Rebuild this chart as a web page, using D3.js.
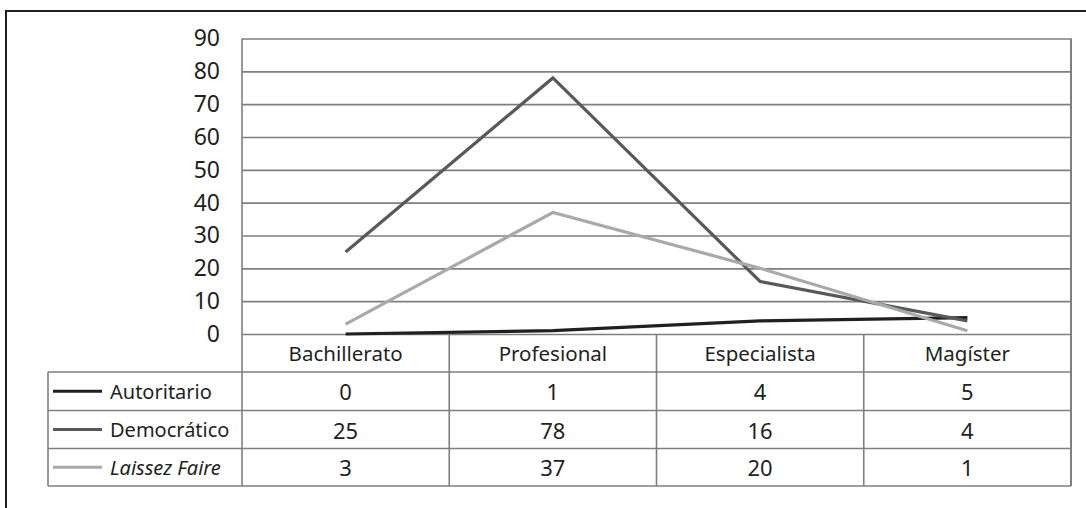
<!DOCTYPE html>
<html>
<head>
<meta charset="utf-8">
<script src="https://cdn.jsdelivr.net/npm/d3@7"></script>
<style>
  html, body { margin: 0; padding: 0; background: #fff; }
  svg { display: block; font-family: "Noto Sans", "Open Sans", sans-serif; }
</style>
</head>
<body>
<svg id="chart" width="1086" height="508"></svg>
<script>
// Categories (academic level) and counts per leadership style
const categories = ["Bachillerato", "Profesional", "Especialista", "Magíster"];
const seriesNames = ["Autoritario", "Democrático", "Laissez Faire"];
const autoritario = [0, 1, 4, 5];
const democratico = [25, 78, 16, 4];
const laissezFaire = [3, 37, 20, 1];
const yTicks = [0, 10, 20, 30, 40, 50, 60, 70, 80, 90];

const seriesValues = [autoritario, democratico, laissezFaire];
const seriesColors = ["#231f20", "#58595b", "#a7a9ac"];
const series = seriesNames.map((name, i) => ({
  name, values: seriesValues[i], color: seriesColors[i], italic: i === 2
}));

const svg = d3.select("#chart");
const grid = "#7f7f7f";

// Layout
const plotLeft = 242, plotRight = 1071, plotTop = 38.5, plotBottom = 334;
const tableLeft = 48;
const rowEdges = [334, 372, 410.5, 448.5, 486];

const x = d3.scaleBand().domain(categories).range([plotLeft, plotRight]).padding(0);
const y = d3.scaleLinear().domain([0, 90]).range([plotBottom, plotTop]);

// Outer frame
svg.append("rect")
  .attr("x", 6).attr("y", 11).attr("width", 1100).attr("height", 520)
  .attr("fill", "none").attr("stroke", "#231f20").attr("stroke-width", 2);

// Horizontal gridlines and y tick labels
const yAxis = svg.append("g")
  .attr("transform", `translate(${plotLeft},0)`)
  .call(d3.axisLeft(y).tickValues(yTicks).tickSize(-(plotRight - plotLeft)).tickPadding(22).tickFormat(d3.format("d")));
yAxis.select(".domain").remove();
yAxis.selectAll(".tick line").attr("stroke", grid).attr("stroke-width", 1.6);
yAxis.selectAll(".tick text")
  .attr("fill", "#231f20")
  .style("font-size", "23px")
  .style("font-family", "'Noto Sans', sans-serif");

// Vertical frame lines of plot and table
svg.append("line")
  .attr("x1", plotLeft).attr("x2", plotLeft).attr("y1", plotTop).attr("y2", rowEdges[4])
  .attr("stroke", grid).attr("stroke-width", 1.6);
svg.append("line")
  .attr("x1", plotRight).attr("x2", plotRight).attr("y1", plotTop).attr("y2", rowEdges[4])
  .attr("stroke", grid).attr("stroke-width", 2);

// Column dividers in the data table
svg.append("g").selectAll("line")
  .data(categories.slice(1))
  .join("line")
  .attr("x1", d => x(d)).attr("x2", d => x(d))
  .attr("y1", rowEdges[0]).attr("y2", rowEdges[4])
  .attr("stroke", grid).attr("stroke-width", 1.6);

// Row separators
svg.append("g").selectAll("line")
  .data(rowEdges.slice(1))
  .join("line")
  .attr("x1", tableLeft).attr("x2", plotRight)
  .attr("y1", d => d).attr("y2", d => d)
  .attr("stroke", grid).attr("stroke-width", 1.6);
svg.append("line")
  .attr("x1", tableLeft).attr("x2", tableLeft).attr("y1", rowEdges[1]).attr("y2", rowEdges[4])
  .attr("stroke", grid).attr("stroke-width", 1.6);

// Category header labels
svg.append("g").selectAll("text")
  .data(categories)
  .join("text")
  .attr("x", d => x(d) + x.bandwidth() / 2)
  .attr("y", (rowEdges[0] + rowEdges[1]) / 2)
  .attr("text-anchor", "middle").attr("dominant-baseline", "central")
  .attr("fill", "#231f20").style("font-size", "20.5px")
  .text(d => d);

// Lines
const line = d3.line()
  .x((d, i) => x(categories[i]) + x.bandwidth() / 2)
  .y(d => y(d));

svg.append("g").selectAll("path")
  .data(series)
  .join("path")
  .attr("d", d => line(d.values))
  .attr("fill", "none")
  .attr("stroke", d => d.color)
  .attr("stroke-width", 3.2)
  .attr("stroke-linejoin", "miter")
  .attr("stroke-linecap", "butt");

// Table rows: legend key, series name, values
const rows = svg.append("g").selectAll("g")
  .data(series)
  .join("g")
  .attr("transform", (d, i) => `translate(0,${(rowEdges[i + 1] + rowEdges[i + 2]) / 2})`);

rows.append("line")
  .attr("x1", 53).attr("x2", 102).attr("y1", 0).attr("y2", 0)
  .attr("stroke", d => d.color).attr("stroke-width", 3.2);

rows.append("text")
  .attr("x", 110).attr("y", 0)
  .attr("dominant-baseline", "central")
  .attr("fill", "#231f20").style("font-size", "20px")
  .style("font-style", d => d.italic ? "italic" : "normal")
  .text(d => d.name);

rows.selectAll("text.val")
  .data(d => d.values)
  .join("text")
  .attr("class", "val")
  .attr("x", (v, i) => x(categories[i]) + x.bandwidth() / 2)
  .attr("y", 0)
  .attr("text-anchor", "middle").attr("dominant-baseline", "central")
  .attr("fill", "#231f20").style("font-size", "22px")
  .text(v => v);
</script>
</body>
</html>
